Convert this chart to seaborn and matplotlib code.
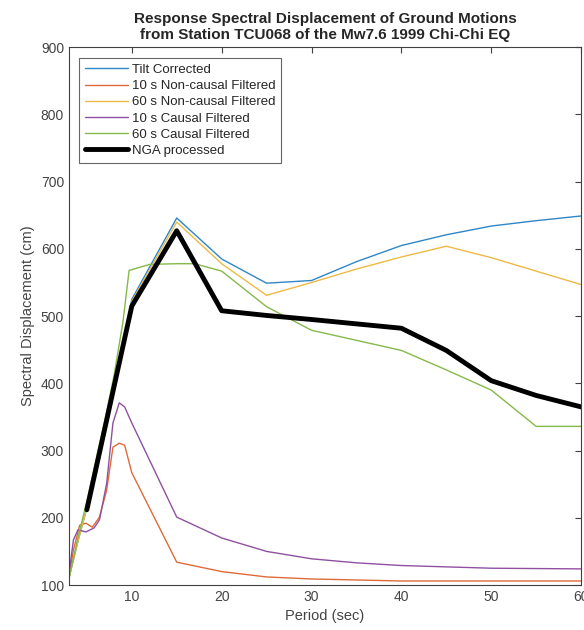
import matplotlib
matplotlib.use("Agg")
import matplotlib.pyplot as plt
import seaborn as sns

# Data (period in sec, spectral displacement in cm)
tilt_x = [3, 4, 5, 6, 7, 8, 9, 10, 15, 20, 25, 30, 35, 40, 45, 50, 55, 60]
tilt_y = [110, 165, 215, 265, 325, 390, 455, 525, 646, 585, 549, 553, 581, 605, 621, 634, 642, 649]

nc10_x = [3, 3.5, 4.2, 4.9, 5.6, 6.4, 7.2, 7.9, 8.6, 9.2, 10, 15, 20, 25, 30, 40, 50, 60]
nc10_y = [110, 152, 189, 192, 186, 201, 241, 305, 311, 308, 267, 134, 120, 112, 109, 106, 106, 106]

nc60_x = [3, 4, 5, 6, 7, 8, 9, 10, 15, 20, 25, 30, 35, 40, 45, 50, 55, 60]
nc60_y = [110, 165, 215, 265, 325, 390, 455, 522, 640, 578, 531, 550, 570, 588, 604, 587, 567, 547]

c10_x = [3, 3.5, 4, 4.9, 5.8, 6.4, 7.2, 7.9, 8.6, 9.2, 10, 15, 20, 25, 30, 35, 40, 50, 60]
c10_y = [115, 167, 182, 179, 185, 197, 251, 341, 371, 365, 341, 201, 170, 150, 139, 133, 129, 125, 124]

c60_x = [3, 4, 5, 6, 7, 8, 9, 9.7, 12, 15, 17, 20, 25, 30, 40, 45, 50, 55, 60]
c60_y = [110, 170, 225, 285, 345, 410, 490, 568, 577, 578, 578, 567, 514, 479, 449, 420, 390, 336, 336]

nga_x = [5, 10, 15, 20, 25, 30, 40, 45, 50, 55, 60]
nga_y = [212, 515, 627, 508, 501, 495, 482, 449, 404, 382, 365]

series = [
    ("Tilt Corrected", tilt_x, tilt_y, "#2F86C8", 1.0),
    ("10 s Non-causal Filtered", nc10_x, nc10_y, "#DE6A3A", 1.0),
    ("60 s Non-causal Filtered", nc60_x, nc60_y, "#EDBA45", 1.0),
    ("10 s Causal Filtered", c10_x, c10_y, "#9050A0", 1.0),
    ("60 s Causal Filtered", c60_x, c60_y, "#86B84A", 1.0),
    ("NGA processed", nga_x, nga_y, "black", 3.5),
]

sns.set_style("white")
plt.rcParams["font.family"] = ["Liberation Sans", "DejaVu Sans"]

fig = plt.figure(figsize=(5.84, 6.3), dpi=100)
ax = fig.add_axes([0.118, 0.0714, 0.877, 0.8536])

for label, xs, ys, color, lw in series:
    sns.lineplot(x=xs, y=ys, ax=ax, color=color, linewidth=lw, label=label,
                 sort=False, estimator=None)

ax.set_xlim(3, 60)
ax.set_ylim(100, 900)
ax.set_xticks([10, 20, 30, 40, 50, 60])
ax.set_yticks(range(100, 901, 100))

gray = "#404040"
for s in ax.spines.values():
    s.set_color(gray)
    s.set_linewidth(0.8)
ax.tick_params(direction="in", length=4, width=0.8, colors=gray, labelsize=10,
               top=True, right=True, labelcolor="#444444")

ax.set_xlabel("Period (sec)", fontsize=10.5, color="#444444")
ax.set_ylabel("Spectral Displacement (cm)", fontsize=10.5, color="#444444")
ax.set_title("Response Spectral Displacement of Ground Motions\n"
             "from Station TCU068 of the Mw7.6 1999 Chi-Chi EQ",
             fontsize=11, fontweight="bold", pad=6, linespacing=1.15)

leg = ax.legend(loc="upper left", fontsize=9.5, frameon=True, fancybox=False,
                handlelength=3.2, borderpad=0.45, labelspacing=0.3,
                handletextpad=0.3, borderaxespad=0.8)
leg.get_frame().set_edgecolor(gray)
leg.get_frame().set_linewidth(0.8)

fig.savefig("out.png", dpi=100)
